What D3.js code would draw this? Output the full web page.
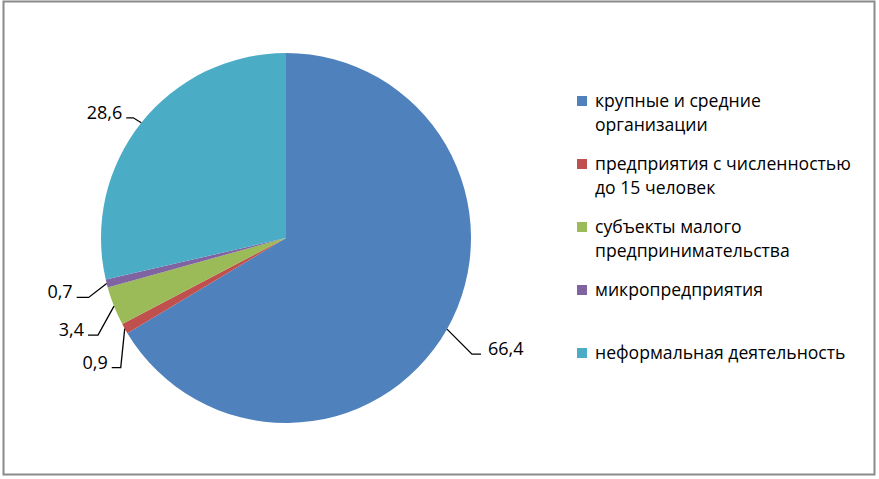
<!DOCTYPE html>
<html>
<head>
<meta charset="utf-8">
<script src="https://cdn.jsdelivr.net/npm/d3@7"></script>
<style>
  body { margin: 0; background: #fff; }
  svg text { font-family: "Open Sans", "Noto Sans", sans-serif; fill: #000; }
</style>
</head>
<body>
<div id="chart"></div>
<script>
(function () {

    var width = 879;
    var height = 479;

    // data
    var categories = [
        "крупные и средние организации",
        "предприятия с численностью до 15 человек",
        "субъекты малого предпринимательства",
        "микропредприятия",
        "неформальная деятельность"
    ];
    var legendLines = [
        ["крупные и средние", "организации"],
        ["предприятия с численностью", "до 15 человек"],
        ["субъекты малого", "предпринимательства"],
        ["микропредприятия"],
        ["неформальная деятельность"]
    ];
    var values = [66.4, 0.9, 3.4, 0.7, 28.6];
    var valueLabels = ["66,4", "0,9", "3,4", "0,7", "28,6"];
    var colors = ["#4f81bd", "#c0504d", "#9bbb59", "#8064a2", "#4bacc6"];

    // leader line layout: elbow offset from the slice edge, then horizontal run
    var leaders = [
        { dx: 25, dy: 25, run: 9 },
        { dx: -4, dy: 39, run: -9 },
        { dx: -16, dy: 29, run: -10 },
        { dx: -18, dy: 14, run: -12 },
        { dx: -8, dy: -5, run: -7 }
    ];

    var cx = 286, cy = 238, radius = 185;

    var svg = d3.select("#chart")
        .append("svg")
        .attr("width", width)
        .attr("height", height)

    // outer frame
    svg.append("rect")
        .attr("x", 3.5)
        .attr("y", 1.5)
        .attr("width", 871)
        .attr("height", 473)
        .attr("fill", "#fff")
        .attr("stroke", "#8a8a8a")
        .attr("stroke-width", 2)

    var pie = d3.pie().sort(null).value(function (d) { return d; })
    var arcs = pie(values)
    var arc = d3.arc().innerRadius(0).outerRadius(radius)

    var g = svg.append("g")
        .attr("transform", "translate(" + cx + "," + cy + ")")

    g.selectAll(".slice")
        .data(arcs)
        .enter().append("path")
        .attr("class", "slice")
        .attr("d", arc)
        .attr("fill", function (d, i) { return colors[i] })

    // labels with leader lines
    arcs.forEach(function (d, i) {
        var mid = (d.startAngle + d.endAngle) / 2;
        var sx = Math.sin(mid) * radius;
        var sy = -Math.cos(mid) * radius;
        var L = leaders[i];
        var ex = sx + L.dx, ey = sy + L.dy;
        var hx = ex + L.run;

        g.append("path")
            .attr("d", "M" + sx + "," + sy + "L" + ex + "," + ey + "L" + hx + "," + ey)
            .attr("fill", "none")
            .attr("stroke", "#000")
            .attr("stroke-width", 1.3)

        var right = L.run > 0;
        g.append("text")
            .attr("x", right ? hx + 7 : hx - 4)
            .attr("y", ey + 1)
            .attr("text-anchor", right ? "start" : "end")
            .attr("font-size", 18)
            .text(valueLabels[i])
    })

    // legend
    var legend = svg.append("g")
        .attr("transform", "translate(577,101)")

    var item = legend.selectAll(".item")
        .data(categories)
        .enter().append("g")
        .attr("class", "item")
        .attr("transform", function (d, i) { return "translate(0," + (i * 63) + ")" })

    item.append("rect")
        .attr("x", 0)
        .attr("y", -5)
        .attr("width", 10)
        .attr("height", 10)
        .attr("fill", function (d, i) { return colors[i] })

    item.each(function (d, i) {
        var t = d3.select(this).append("text")
            .attr("font-size", 17.6)
        legendLines[i].forEach(function (line, j) {
            t.append("tspan")
                .attr("x", 18)
                .attr("y", 6 + j * 24)
                .text(line)
        })
    })

})();
</script>
</body>
</html>
